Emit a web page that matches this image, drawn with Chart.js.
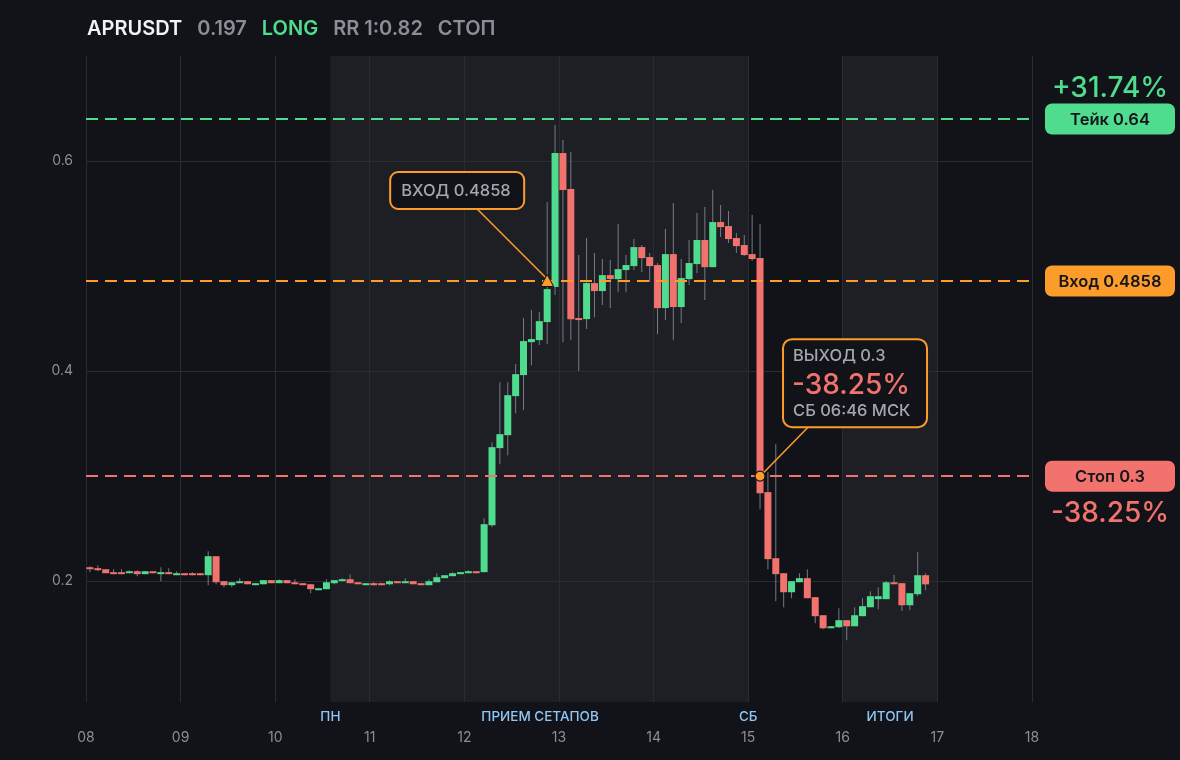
<!DOCTYPE html>
<html><head><meta charset="utf-8">
<script src="https://cdn.jsdelivr.net/npm/chart.js@4.4.1/dist/chart.umd.min.js"></script>
<style>html,body{margin:0;padding:0;background:#121318;}#wrap{width:1180px;height:760px;position:relative;}</style>
</head><body><div id="wrap"><canvas id="c"></canvas></div>
<script>
// ---- header ----
const symbol = 'APRUSDT';
const lastPrice = '0.197';
const side = 'LONG';
const rrText = 'RR 1:0.82';
const statusText = 'СТОП';

// ---- axes ----
const dayTicks = [8, 9, 10, 11, 12, 13, 14, 15, 16, 17, 18];
const priceTicks = [0.2, 0.4, 0.6];
const firstDay = 8;
const candlesPerDay = 12; // 2h candles

// ---- OHLC (2h candles from day 08 00:00) ----
const opens = [
 .2133,.2124,.2114,.2086,.2086,.2076,.2095,.2067,.2095,.2067,.2086,.2057,.2076,.2076,.2076,.2057,.2238,.2000,.1962,.1981,
 .2000,.1962,.1971,.2010,.1981,.2010,.1990,.1981,.1971,.1914,.1924,.1981,.2000,.2019,.1990,.1962,.1981,.1981,.1971,.2000,
 .1981,.2000,.1981,.1962,.1990,.2029,.2048,.2067,.2076,.2095,.2086,.2533,.3267,.3390,.3762,.3962,.4276,.4295,.4467,.4800,
 .6076,.5733,.4505,.4495,.4838,.4762,.4914,.4876,.4962,.5000,.5181,.5086,.5010,.4600,.5114,.4610,.4876,.5019,.5248,.4990,
 .5419,.5381,.5267,.5200,.5114,.5076,.2848,.2219,.2076,.1895,.1990,.2029,.1848,.1676,.1552,.1562,.1629,.1571,.1667,.1752,
 .1829,.1829,.1990,.1981,.1771,.1876,.2057];
const highs = [
 .2143,.2152,.2114,.2114,.2114,.2105,.2105,.2095,.2095,.2133,.2124,.2095,.2076,.2086,.2076,.2286,.2238,.2000,.1990,.2029,
 .2000,.1981,.2010,.2010,.2019,.2010,.2019,.1981,.1971,.1933,.2019,.2010,.2029,.2067,.1990,.1981,.1990,.1981,.2010,.2000,
 .2029,.2000,.1981,.2019,.2076,.2057,.2086,.2086,.2105,.2095,.2600,.3324,.3895,.3895,.4067,.4505,.4581,.4562,.5610,.6343,
 .6200,.6086,.5105,.5267,.5124,.5067,.5057,.5400,.5105,.5257,.5200,.5124,.5029,.5352,.5600,.5067,.5248,.5505,.5562,.5724,
 .5581,.5524,.5314,.5295,.5486,.5400,.3038,.3305,.2076,.2000,.2076,.2114,.1848,.1676,.1571,.1743,.1629,.1752,.1838,.1905,
 .1943,.2003,.2060,.1981,.1886,.2276,.2076];
const lows = [
 .2086,.2095,.2076,.2067,.2067,.2076,.2048,.2067,.2076,.2000,.2067,.2057,.2057,.2057,.2057,.1962,.1971,.1943,.1943,.1981,
 .1971,.1962,.1971,.1981,.1981,.1981,.1971,.1962,.1886,.1914,.1924,.1971,.2000,.1981,.1971,.1962,.1962,.1962,.1962,.1981,
 .1981,.1971,.1962,.1962,.1990,.2029,.2048,.2067,.2076,.2076,.2086,.2514,.3114,.3200,.3600,.3629,.4057,.4248,.4257,.4724,
 .4276,.4295,.4000,.4400,.4514,.4629,.4600,.4752,.4752,.4962,.4943,.4848,.4352,.4486,.4295,.4457,.4819,.4933,.4676,.4990,
 .5276,.5219,.5124,.5095,.5048,.2686,.2114,.1810,.1752,.1838,.1990,.1838,.1600,.1543,.1552,.1552,.1438,.1571,.1667,.1752,
 .1733,.1829,.1971,.1717,.1724,.1857,.1914];
const closes = [
 .2114,.2105,.2076,.2067,.2067,.2095,.2067,.2095,.2076,.2086,.2067,.2076,.2057,.2057,.2057,.2238,.1990,.1962,.1990,.2000,
 .1971,.1981,.2010,.1981,.2010,.1981,.1971,.1962,.1924,.1933,.1990,.2010,.2019,.1981,.1971,.1981,.1962,.1962,.2000,.1981,
 .2000,.1971,.1962,.2000,.2038,.2057,.2076,.2086,.2095,.2076,.2543,.3276,.3400,.3771,.3971,.4286,.4305,.4476,.4781,.6076,
 .5724,.4495,.4486,.4838,.4762,.4914,.4876,.4971,.5010,.5181,.5076,.5000,.4600,.5114,.4610,.4886,.5029,.5248,.4990,.5419,
 .5371,.5257,.5190,.5105,.5067,.2838,.2210,.2067,.1895,.2000,.2029,.1838,.1667,.1552,.1571,.1629,.1571,.1676,.1762,.1857,
 .1857,.1990,.1971,.1771,.1886,.2057,.1970];

// ---- trade levels ----
const takeLevel = 0.64;
const entryLevel = 0.4858;
const stopLevel = 0.3;
const takePct = '+31.74%';
const stopPct = '-38.25%';
const entryCandle = 58;
const exitCandle = 85;
const exitTime = 'СБ 06:46 МСК';

// ---- sessions ----
const sessionBands = [[10.5833, 15], [16, 17]];
const sessionLabels = ['ПН', 'ПРИЕМ СЕТАПОВ', 'СБ', 'ИТОГИ'];
const sessionLabelDays = [10.5833, 12.8, 15, 16.5];

// ---- colours ----
const C = {
  bg: '#121318', band: '#1e1f24', grid: '#2a2c32', text: '#8b8e96',
  green: '#50dc8e', red: '#f2736e', orange: '#fc9d2b', wick: '#767a84',
  blue: '#90c6f5', white: '#f2f3f5', boxText: '#a3a7b0', dark: '#121318'
};
const FONT = 'Inter, "Noto Sans", sans-serif';

const candleX = opens.map((_, i) => firstDay + (i + 0.5) / candlesPerDay);
const bodyColors = opens.map((o, i) => closes[i] >= o ? C.green : C.red);

function font(size, weight) { return `${weight} ${size}px ${FONT}`; }

const overlay = {
  id: 'overlay',
  beforeDraw(chart) {
    const { ctx, chartArea: a, scales: { x } } = chart;
    ctx.save();
    ctx.fillStyle = C.bg;
    ctx.fillRect(0, 0, chart.width, chart.height);
    ctx.fillStyle = C.band;
    sessionBands.forEach(([s, e]) => {
      const x0 = x.getPixelForValue(s), x1 = x.getPixelForValue(e);
      ctx.fillRect(x0, a.top, x1 - x0, a.bottom - a.top);
    });
    ctx.restore();
  },
  afterDatasetsDraw(chart) {
    const { ctx, chartArea: a, scales: { y } } = chart;
    ctx.save();
    ctx.lineWidth = 2;
    ctx.setLineDash([12, 7]);
    [[takeLevel, C.green], [entryLevel, C.orange], [stopLevel, C.red]].forEach(([v, col]) => {
      const py = Math.round(y.getPixelForValue(v));
      ctx.strokeStyle = col;
      ctx.beginPath(); ctx.moveTo(a.left, py); ctx.lineTo(a.right, py); ctx.stroke();
    });
    ctx.restore();
  },
  afterDraw(chart) {
    const { ctx, chartArea: a, scales: { x, y } } = chart;
    ctx.save();
    // header
    ctx.textBaseline = 'alphabetic';
    ctx.textAlign = 'left';
    let hx = 87;
    [[symbol, C.white], [lastPrice, C.text], [side, C.green], [rrText, C.text], [statusText, C.text]].forEach(([t, col]) => {
      ctx.font = font(20, 600);
      ctx.fillStyle = col;
      ctx.fillText(t, hx, 35);
      hx += ctx.measureText(t).width + 15;
    });

    // session labels
    ctx.font = font(13.5, 500);
    ctx.fillStyle = C.blue;
    ctx.textAlign = 'center';
    ctx.textBaseline = 'middle';
    sessionLabels.forEach((t, i) => ctx.fillText(t, x.getPixelForValue(sessionLabelDays[i]), 717));

    // right side pills
    const pill = (v, col, text) => {
      const py = y.getPixelForValue(v);
      ctx.fillStyle = col;
      ctx.beginPath(); ctx.roundRect(1045, py - 15.5, 130, 31, 7); ctx.fill();
      ctx.fillStyle = '#15161a';
      ctx.font = font(16.5, 600);
      ctx.textAlign = 'center'; ctx.textBaseline = 'middle';
      ctx.fillText(text, 1110, py + 1);
    };
    pill(takeLevel, C.green, 'Тейк ' + takeLevel);
    pill(entryLevel, C.orange, 'Вход ' + entryLevel);
    pill(stopLevel, C.red, 'Стоп ' + stopLevel);
    ctx.font = font(28, 500);
    ctx.textAlign = 'center'; ctx.textBaseline = 'middle';
    ctx.fillStyle = C.green;
    ctx.fillText(takePct, 1110, y.getPixelForValue(takeLevel) - 30);
    ctx.fillStyle = C.red;
    ctx.fillText(stopPct, 1110, y.getPixelForValue(stopLevel) + 37);

    // entry annotation
    const ex = x.getPixelForValue(candleX[entryCandle]);
    const ey = y.getPixelForValue(entryLevel);
    ctx.strokeStyle = C.orange; ctx.lineWidth = 1.5;
    ctx.beginPath(); ctx.moveTo(ex - 70, ey - 72); ctx.lineTo(ex - 2, ey - 4); ctx.stroke();
    ctx.fillStyle = C.dark; ctx.lineWidth = 2;
    ctx.beginPath(); ctx.roundRect(ex - 157, ey - 109, 134, 37, 8); ctx.fill(); ctx.stroke();
    ctx.fillStyle = C.boxText; ctx.font = font(16.5, 500);
    ctx.textAlign = 'left'; ctx.textBaseline = 'middle';
    ctx.fillText('ВХОД ' + entryLevel, ex - 146, ey - 90);
    // triangle
    ctx.beginPath();
    ctx.moveTo(ex, ey - 6.5); ctx.lineTo(ex + 6.5, ey + 5.5); ctx.lineTo(ex - 6.5, ey + 5.5); ctx.closePath();
    ctx.fillStyle = C.orange; ctx.fill();
    ctx.strokeStyle = C.dark; ctx.lineWidth = 1; ctx.stroke();

    // exit annotation
    const qx = x.getPixelForValue(candleX[exitCandle]);
    const qy = y.getPixelForValue(stopLevel);
    ctx.strokeStyle = C.orange; ctx.lineWidth = 1.5;
    ctx.beginPath(); ctx.moveTo(qx + 48, qy - 49); ctx.lineTo(qx + 3, qy - 3); ctx.stroke();
    ctx.fillStyle = C.dark; ctx.lineWidth = 2;
    ctx.beginPath(); ctx.roundRect(qx + 23, qy - 137, 144, 88, 9); ctx.fill(); ctx.stroke();
    ctx.textAlign = 'left'; ctx.textBaseline = 'middle';
    ctx.fillStyle = C.boxText; ctx.font = font(16.5, 500);
    ctx.fillText('ВЫХОД ' + stopLevel, qx + 33, qy - 120);
    ctx.fillStyle = C.red; ctx.font = font(28, 500);
    ctx.fillText(stopPct, qx + 32, qy - 91);
    ctx.fillStyle = C.boxText; ctx.font = font(16.5, 500);
    ctx.fillText(exitTime, qx + 33, qy - 65);
    ctx.beginPath(); ctx.arc(qx, qy, 5, 0, Math.PI * 2);
    ctx.fillStyle = C.orange; ctx.fill();
    ctx.strokeStyle = C.dark; ctx.lineWidth = 1.2; ctx.stroke();
    ctx.restore();
  }
};

Chart.defaults.font.family = FONT;
new Chart(document.getElementById('c'), {
  type: 'bar',
  data: {
    datasets: [
      {
        label: 'body',
        data: opens.map((o, i) => ({ x: candleX[i], y: [o, closes[i]] })),
        backgroundColor: bodyColors,
        barThickness: 7,
        minBarLength: 2,
        grouped: false,
        inflateAmount: 0,
        borderWidth: 0,
        order: 0
      },
      {
        label: 'wick',
        data: lows.map((l, i) => ({ x: candleX[i], y: [l, highs[i]] })),
        backgroundColor: C.wick,
        barThickness: 1,
        grouped: false,
        inflateAmount: 0,
        borderWidth: 0,
        order: 1
      }
    ]
  },
  options: {
    responsive: true,
    maintainAspectRatio: false,
    animation: false,
    events: [],
    layout: { padding: { top: 56, right: 148, left: 0, bottom: 0 } },
    plugins: { legend: { display: false }, tooltip: { enabled: false } },
    scales: {
      x: {
        type: 'linear', min: 8, max: 18, offset: false,
        border: { display: false },
        grid: { color: C.grid, offset: false, drawTicks: false, lineWidth: 1 },
        afterBuildTicks: s => { s.ticks = dayTicks.map(v => ({ value: v })); },
        afterFit: s => { s.height = 58; },
        ticks: {
          color: C.text, padding: 27, font: { size: 14, family: FONT },
          maxRotation: 0, autoSkip: false,
          callback: v => String(v).padStart(2, '0')
        }
      },
      y: {
        type: 'linear', min: 0.085, max: 0.70,
        border: { display: false },
        grid: { color: C.grid, drawTicks: false, lineWidth: 1 },
        afterBuildTicks: s => { s.ticks = priceTicks.map(v => ({ value: v })); },
        afterFit: s => { s.width = 86; },
        ticks: { color: C.text, padding: 13, font: { size: 14, family: FONT }, callback: v => v.toFixed(1) }
      }
    }
  },
  plugins: [overlay]
});
</script>
</body></html>
